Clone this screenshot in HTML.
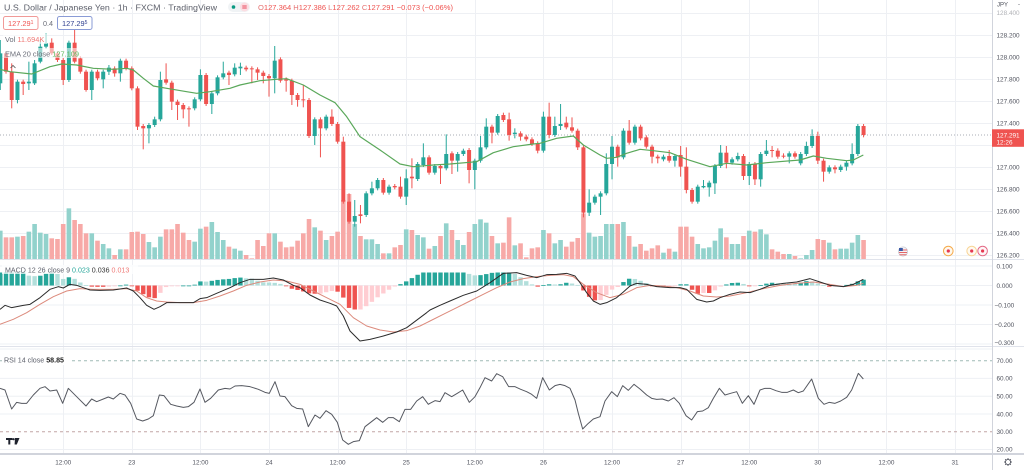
<!DOCTYPE html>
<html><head><meta charset="utf-8">
<style>
html,body{margin:0;padding:0;background:#fff;}
body{width:1024px;height:470px;overflow:hidden;position:relative;}
svg{position:absolute;left:0;top:0;}
text{font-family:"Liberation Sans",sans-serif;}
</style></head><body>
<svg id="s" width="1024" height="470" viewBox="0 0 1024 470" xmlns="http://www.w3.org/2000/svg">
<rect x="0" y="0" width="1024" height="470" fill="#ffffff"/>
<g id="grid"></g>
<g id="vol"></g>
<g id="cand"></g>
<g id="ind"></g>
<!-- separators / axis lines -->
<line x1="0" y1="259.5" x2="1024" y2="259.5" stroke="#e0e3eb" stroke-width="1"/>
<line x1="0" y1="346.5" x2="1024" y2="346.5" stroke="#e0e3eb" stroke-width="1"/>
<line x1="0" y1="454" x2="1024" y2="454" stroke="#d1d4dc" stroke-width="2"/>
<line x1="992.5" y1="0" x2="992.5" y2="470" stroke="#d1d4dc" stroke-width="1"/>

<!-- header -->
<text x="4" y="10.5" font-size="8.6" fill="#5d606b" textLength="213" lengthAdjust="spacingAndGlyphs">U.S. Dollar / Japanese Yen · 1h · FXCM · TradingView</text>
<rect x="228" y="2" width="22" height="10" rx="5" fill="#f0f3f5"/>
<circle cx="233.5" cy="7" r="1.8" fill="#089981"/>
<circle cx="244.5" cy="7" r="4.5" fill="#fcdde2"/>
<line x1="242.3" y1="6" x2="246.7" y2="6" stroke="#e5394f" stroke-width="0.9"/>
<line x1="242.3" y1="8" x2="246.7" y2="8" stroke="#e5394f" stroke-width="0.9"/>
<text x="258" y="10" font-size="7.4" fill="#ef5350" textLength="195" lengthAdjust="spacingAndGlyphs"><tspan fill="#e57373">O</tspan>127.364 <tspan fill="#e57373">H</tspan>127.386 <tspan fill="#e57373">L</tspan>127.262 <tspan fill="#e57373">C</tspan>127.291 −0.073 (−0.06%)</text>

<rect x="3.5" y="16.5" width="34.5" height="13" rx="2" fill="#fff" stroke="#f19a98" stroke-width="1"/>
<text x="8" y="25.8" font-size="7.4" fill="#ef5350">127.29<tspan font-size="5" dy="-2">1</tspan></text>
<text x="43" y="25.8" font-size="7.2" fill="#6a6d78">0.4</text>
<rect x="57.5" y="16.5" width="34.5" height="13" rx="2" fill="#fff" stroke="#8a9bd6" stroke-width="1"/>
<text x="62" y="25.8" font-size="7.4" fill="#2f3f8f">127.29<tspan font-size="5" dy="-2">5</tspan></text>

<rect x="3" y="34" width="44" height="10" fill="#ffffff" opacity="0.55"/>
<text x="5" y="42" font-size="7.4" fill="#6a6d78">Vol <tspan fill="#ef7a77">11.694K</tspan></text>
<rect x="3" y="48" width="78" height="10" fill="#ffffff" opacity="0.55"/>
<text x="5" y="56.3" font-size="7.4" fill="#6a6d78">EMA 20 close <tspan fill="#5cb85c">127.109</tspan></text>
<path d="M10.5 68 L13 65.5 L15.5 68" fill="none" stroke="#555" stroke-width="0.8"/>

<!-- MACD legend -->
<rect x="2" y="265" width="136" height="9" fill="#ffffff" opacity="0.7"/>
<text x="5" y="272.5" font-size="7.1" fill="#5d606b">MACD 12 26 close 9 <tspan fill="#26a69a">0.023</tspan> <tspan fill="#333">0.036</tspan> <tspan fill="#ef7a77">0.013</tspan></text>

<!-- RSI legend -->
<rect x="2" y="355" width="68" height="10" fill="#ffffff"/>
<text x="4" y="362.5" font-size="7.1" fill="#5d606b">RSI 14 close <tspan fill="#222" font-weight="bold">58.85</tspan></text>

<!-- TV logo -->
<g fill="#1e222d">
<rect x="6" y="438" width="6.5" height="2"/>
<rect x="8.3" y="438" width="2" height="6.5"/>
<circle cx="13.6" cy="439.2" r="1.1"/>
<path d="M15 438 L19.5 438 L16.8 444.5 L14.6 444.5 Z"/>
</g>

<!-- event icons -->
<circle cx="903" cy="251.5" r="4.6" fill="#f3f3f7" stroke="#c8cbd4" stroke-width="0.8"/>
<line x1="899" y1="250" x2="907" y2="250" stroke="#e25555" stroke-width="0.9"/>
<line x1="899" y1="252.5" x2="907" y2="252.5" stroke="#e25555" stroke-width="0.9"/>
<line x1="899.5" y1="254.8" x2="906.5" y2="254.8" stroke="#e25555" stroke-width="0.9"/>
<rect x="899" y="248" width="3.8" height="3" fill="#3c5aa6"/>
<circle cx="948.3" cy="251" r="4.8" fill="#fff8ec" stroke="#f5a94a" stroke-width="1"/>
<circle cx="948.3" cy="251" r="1.6" fill="#e53950"/>
<circle cx="971.7" cy="251" r="4.8" fill="#fffaf0" stroke="#f8d597" stroke-width="1"/>
<circle cx="971.7" cy="251" r="1.6" fill="#e53950"/>
<circle cx="982.6" cy="251" r="4.8" fill="#fff5f7" stroke="#e36a86" stroke-width="1"/>
<circle cx="982.6" cy="251" r="1.6" fill="#e53950"/>

<!-- right axis labels -->
<g font-size="6.4" fill="#50535e">
<text x="997" y="6.5" font-size="6">JPY</text>
<text x="1018" y="6" font-size="6">-</text>
<text x="996.5" y="15" opacity="0.45">128.400</text>
<text x="996.5" y="37.3">128.200</text>
<text x="996.5" y="59.3">128.000</text>
<text x="996.5" y="81.3">127.800</text>
<text x="996.5" y="103.3">127.600</text>
<text x="996.5" y="125.3">127.400</text>
<text x="996.5" y="169.3">127.000</text>
<text x="996.5" y="191.3">126.800</text>
<text x="996.5" y="213.3">126.600</text>
<text x="996.5" y="235.3">126.400</text>
<text x="996.5" y="257.3">126.200</text>
<text x="996.5" y="268.5">0.100</text>
<text x="996.5" y="287.8">0.000</text>
<text x="994.5" y="307.3">−0.100</text>
<text x="994.5" y="326.8">−0.200</text>
<text x="994.5" y="345">−0.300</text>
<text x="996.5" y="363">70.00</text>
<text x="996.5" y="380.7">60.00</text>
<text x="996.5" y="398.5">50.00</text>
<text x="996.5" y="416.3">40.00</text>
<text x="996.5" y="434">30.00</text>
<text x="996.5" y="451.5">20.00</text>
</g>
<rect x="992" y="129.3" width="32" height="17.5" fill="#ef5350"/>
<text x="996.5" y="137.3" font-size="6.4" fill="#ffffff">127.291</text>
<text x="996.5" y="144.3" font-size="6.4" fill="#ffffff">12:26</text>

<!-- time axis labels -->
<g font-size="6.4" fill="#50535e" text-anchor="middle">
<text x="63.2" y="464.5">12:00</text>
<text x="131.8" y="464.5">23</text>
<text x="200.4" y="464.5">12:00</text>
<text x="269" y="464.5">24</text>
<text x="337.6" y="464.5">12:00</text>
<text x="406.2" y="464.5">25</text>
<text x="474.8" y="464.5">12:00</text>
<text x="543.4" y="464.5">26</text>
<text x="612" y="464.5">12:00</text>
<text x="680.6" y="464.5">27</text>
<text x="749.2" y="464.5">12:00</text>
<text x="817.8" y="464.5">30</text>
<text x="886.4" y="464.5">12:00</text>
<text x="955" y="464.5">31</text>
</g>
<!-- gear -->
<g stroke="#50535e" fill="none" stroke-width="0.9">
<circle cx="1008" cy="462" r="2.6"/>
<line x1="1008" y1="458" x2="1008" y2="459.2"/>
<line x1="1008" y1="464.8" x2="1008" y2="466"/>
<line x1="1004" y1="462" x2="1005.2" y2="462"/>
<line x1="1010.8" y1="462" x2="1012" y2="462"/>
<line x1="1005.2" y1="459.2" x2="1006" y2="460"/>
<line x1="1010" y1="464" x2="1010.8" y2="464.8"/>
<line x1="1010.8" y1="459.2" x2="1010" y2="460"/>
<line x1="1006" y1="464" x2="1005.2" y2="464.8"/>
</g>
</svg>
<script>
(function(){
var NS="http://www.w3.org/2000/svg";
function el(p,t,a){var e=document.createElementNS(NS,t);for(var k in a)e.setAttribute(k,a[k]);p.appendChild(e);return e;}
var gG=document.getElementById('grid'),gV=document.getElementById('vol'),gC=document.getElementById('cand'),gI=document.getElementById('ind');
var X0=0.3,DX=5.717;function cx(i){return X0+i*DX;}
var GC="#eef0f4";
// vertical grid
[11,23,35,47,59,71,83,95,107,119,131,143,155,167].forEach(function(k){var x=Math.round(cx(k))+0.5;el(gG,'line',{x1:x,x2:x,y1:0,y2:453,stroke:GC,'stroke-width':1});});
// horizontal grid main
[13,35,57,79,101,123,145,167,189,211,233,255].forEach(function(y){el(gG,'line',{x1:0,x2:992,y1:y+0.5,y2:y+0.5,stroke:GC,'stroke-width':1});});
[266,285.5,305,324.5,344].forEach(function(y){el(gG,'line',{x1:0,x2:992,y1:y,y2:y,stroke:GC,'stroke-width':1});});
[349,378.4,396.2,414,449.5].forEach(function(y){el(gG,'line',{x1:0,x2:992,y1:y,y2:y,stroke:GC,'stroke-width':1});});
// RSI dashed
el(gG,'line',{x1:0,x2:992,y1:360.7,y2:360.7,stroke:"#9fbab5",'stroke-width':1,'stroke-dasharray':'3 3'});
el(gG,'line',{x1:0,x2:992,y1:431.7,y2:431.7,stroke:"#c2a6a6",'stroke-width':1,'stroke-dasharray':'3 3'});
// price dotted line
el(gG,'line',{x1:0,x2:992,y1:135,y2:135,stroke:"#a9acb5",'stroke-width':1,'stroke-dasharray':'1 2'});

var cs=("g,100,190,60,210 r,100,155 r,155,240,130,265 g,185,240,250 r,185,192,225 g,185,190,125,210 g,130,190,120,195 g,80,125,60,130 g,70,80,40 r,68,100,55,105 r,100,120 r,120,180,195 g,68,180 r,68,125,30,130 r,115,155 r,155,210,215 g,155,210,240 r,155,175 g,155,178,205 g,143,155,135,165 r,145,160,170 g,122,160,185 r,122,145 r,145,205 r,205,320,330 r,318,325,388 g,315,325,370 g,298,315,290 g,180,298,155 r,178,188,130 r,188,245,270 r,245,255,300 r,255,268,295 r,265,268,320 g,238,265 g,165,238,148 r,165,252,258 g,220,252,282 g,172,220 g,160,172,125 r,158,165,195 "+
"g,143,163,130 g,140,145,128,165 r,143,148 r,145,148,190 r,148,158,180 r,158,168,190 r,168,175,230 g,122,175,78,220 r,118,182 r,178,182,215 r,182,225,255 r,225,240,260 r,238,240,195,262 r,240,348 g,298,348,375 r,298,325,412 g,290,325 r,290,312,268 r,312,365 r,365,545,350 r,545,605,520 g,588,605,540,620 r,583,588,555,610 g,520,585 g,505,520,485 g,480,505 r,480,518 g,500,518 r,498,502 r,500,530,470 g,475,530,448,555 r,470,475,415,505 g,432,477 g,412,435,370 r,412,458 g,438,458 r,438,445,492 g,402,445,343 "+
"r,400,422,462 g,402,422,455 g,392,402 r,390,450,490 g,422,450,508 g,382,422,348 g,320,382,295 r,320,338,370 g,288,338 r,285,300,278 r,298,345,278,362 g,338,342,325,355 r,340,350,362 r,350,358 r,358,372 r,370,392,400 g,290,392,275,398 r,290,345,248,355 g,318,345,290 g,312,318,252,330 r,308,322,290 r,322,332,292 r,332,382,390 r,382,578,592 g,548,578,508,588 g,530,548 g,520,530,585 g,432,520,400 g,380,432,348,478 r,380,412,440 g,332,412,325 r,332,368,300 g,320,368 r,320,355 r,352,380 r,380,410,430 r,410,415,430 "+
"g,410,418 r,408,422,390 g,408,422,440 r,405,440,378,470 r,440,510,382,520 r,510,545 g,500,545 g,498,502,480,505 g,488,502,530 g,438,490,522 g,398,438,375 r,398,428,378,445 g,418,428 g,408,418,398 r,408,468,480 g,432,468,495 r,432,478,495 g,402,478,500 g,392,402,360 r,390,393,378,412 r,392,410,385 r,407,409,400,415 g,400,410,430 r,400,410 g,402,430 g,378,402,365 g,348,378,328 r,348,422,335,432 r,422,455,485 g,442,455 r,442,448,460 g,440,450 g,428,440,452 g,402,430,370 g,318,402,312 r,318,345,352").split(' ').map(function(s){return s.split(',');});

var vs=("632 652 652 650 648 635 612 638 642 655 657 612 565 600 612 640 640 662 672 685 705 688 688 636 635 642 666 682 650 628 628 612 638 660 665 626 620 606 636 660 680 "+
"686 692 705 715 660 678 640 640 665 682 680 662 640 597 622 632 660 648 635 540 522 612 648 658 658 672 700 700 682 675 628 630 645 652 686 678 648 610 "+
"630 660 675 636 612 598 608 648 670 668 592 676 670 712 685 682 630 640 670 660 680 665 654 580 638 650 648 612 612 612 606 648 680 672 692 685 676 "+
"698 686 695 620 620 650 672 685 682 662 625 652 672 672 648 632 635 628 643 688 695 702 702 708 715 705 690 657 660 668 688 686 686 668 645 660").split(' ').map(Number);

function zy(v){return 20+v/3;}
// volume
cs.forEach(function(c,i){
  var v=vs[i]; if(v===undefined)return;
  var y=zy(v); var x=cx(i);
  el(gV,'rect',{x:(x-2.3).toFixed(2),y:y.toFixed(2),width:4.6,height:(259-y).toFixed(2),fill:c[0]==='g'?'#92d2cc':'#f7a9a7'});
});
// candles
cs.forEach(function(c,i){
  var col=c[0]==='g'?'#26a69a':'#ef5350';
  var t=+c[1],b=+c[2],hi=t-6,lo=b+6;
  for(var k=3;k<c.length;k++){var w=+c[k];if(w<t)hi=w;else if(w>b)lo=w;}
  var x=cx(i);
  el(gC,'line',{x1:x.toFixed(2),x2:x.toFixed(2),y1:zy(hi).toFixed(2),y2:zy(lo).toFixed(2),stroke:col,'stroke-width':1});
  var yt=zy(t),yb=zy(b);
  el(gC,'rect',{x:(x-2).toFixed(2),y:yt.toFixed(2),width:4,height:Math.max(1,yb-yt).toFixed(2),fill:col});
});
// EMA
function conv(list,off,yoff){return list.map(function(p){return [off+p[0]/3,yoff+p[1]/3];});}
var ema=[].concat(
 conv([[0,148],[30,155],[95,162],[150,140],[185,132],[230,135],[280,145],[340,148],[380,145],[400,150],[430,175],[460,198],[500,205],[560,215],[590,220],[630,215]],0,20),
 conv([[30,205],[60,195],[120,182],[170,178],[200,176],[250,195],[300,225],[345,248],[380,290],[420,350],[480,390],[540,432],[580,440],[640,435]],220,20),
 conv([[30,432],[110,425],[160,398],[220,380],[280,372],[300,370],[350,355],[400,348],[430,375],[480,405],[500,415],[530,412],[560,400],[600,388],[640,392]],440,20),
 conv([[30,398],[80,418],[150,440],[200,430],[260,435],[320,428],[420,420],[460,408],[500,415],[560,422],[580,420],[610,405]],660,20)
);
function pts(a){return a.map(function(p){return p[0].toFixed(2)+','+p[1].toFixed(2);}).join(' ');}
el(gC,'polyline',{points:pts(ema),fill:'none',stroke:'#5aa85a','stroke-width':1.2,'stroke-linejoin':'round'});

// MACD
var M=[].concat(
 conv([[0,160],[15,148],[35,155],[70,148],[90,145],[120,125],[150,100],[175,92],[190,96],[210,85],[230,88],[250,95],[270,102],[300,103],[340,102],[380,96],[400,105],[420,125],[440,148],[462,160],[480,152],[500,140],[540,140],[580,140],[600,128],[620,125],[650,112],[690,95],[720,80],[750,70],[790,70],[820,66],[850,72],[880,88],[900,95],[930,117],[960,132],[990,142],[1010,150],[1030,180],[1050,225],[1080,255],[1110,250],[1150,240],[1190,228],[1220,215],[1260,185],[1280,170]],0,256),
 conv([[0,162],[30,148],[60,135],[100,118],[140,105],[180,80],[220,52],[260,50],[290,58],[320,65],[350,56],[380,55],[410,52],[435,60],[450,80],[470,110],[490,135],[510,145],[530,140],[560,125],[580,108],[600,90],[620,82],[650,85],[680,92],[720,95],[750,95],[770,100],[800,130],[830,138],[850,135],[870,125],[900,115],[930,108],[960,110],[990,100],[1020,88],[1060,82],[1100,78],[1140,68],[1170,78],[1200,88],[1240,92],[1270,85],[1300,70]],430,256)
);
var S=[].concat(
 conv([[0,205],[40,190],[80,170],[120,145],[160,122],[200,105],[240,98],[280,100],[340,100],[380,98],[410,105],[440,125],[470,135],[500,138],[540,140],[580,140],[620,133],[660,120],[700,105],[740,88],[780,78],[820,72],[860,75],[900,85],[940,105],[980,125],[1020,145],[1060,185],[1100,210],[1140,222],[1180,228],[1220,224],[1260,210],[1280,200]],0,256),
 conv([[0,195],[40,175],[80,155],[120,135],[160,115],[200,95],[240,78],[280,68],[320,62],[360,58],[400,56],[430,62],[460,85],[500,110],[540,125],[580,115],[620,95],[660,88],[700,90],[740,95],[780,105],[820,120],[860,123],[900,120],[950,110],[1000,98],[1050,88],[1100,82],[1150,78],[1200,85],[1240,92],[1280,88],[1300,82]],430,256)
);
function interp(P,x){if(x<=P[0][0])return P[0][1];for(var k=1;k<P.length;k++){if(x<=P[k][0]){var a=P[k-1],b=P[k];return a[1]+(b[1]-a[1])*(x-a[0])/(b[0]-a[0]);}}return P[P.length-1][1];}
var prev=0,Z=285.5;
for(var i=0;i<152;i++){
  var x=cx(i);var h=(interp(S,x)-interp(M,x))*1.45;
  if(h>13)h=13; if(h<-24)h=-24;
  var col;
  if(h>=0)col=(h>=prev)?'#26a69a':'#b2dfdb';else col=(h<prev)?'#ef5350':'#ffcdd2';
  var y=h>=0?Z-h:Z, hh=Math.max(0.8,Math.abs(h));
  el(gI,'rect',{x:(x-2.2).toFixed(2),y:y.toFixed(2),width:4.4,height:hh.toFixed(2),fill:col});
  prev=h;
}
el(gI,'polyline',{points:pts(S),fill:'none',stroke:'#dc8a7c','stroke-width':1,'stroke-linejoin':'round'});
el(gI,'polyline',{points:pts(M),fill:'none',stroke:'#2b2b2b','stroke-width':1,'stroke-linejoin':'round'});

// RSI
var R=[].concat(
 conv([[0,130],[15,135],[35,192],[50,172],[65,175],[80,175],[100,150],[120,130],[135,125],[150,138],[170,135],[188,175],[205,130],[230,155],[258,183],[275,162],[290,170],[310,162],[325,156],[340,162],[360,145],[375,150],[392,175],[410,222],[428,228],[445,222],[460,212],[478,150],[492,152],[512,178],[530,183],[550,187],[565,185],[582,172],[600,132],[615,172],[632,160],[655,135],[675,130],[690,132],[705,123],[725,122],[750,125],[775,133],[795,142],[808,145],[825,110],[840,153],[855,155],[875,182],[890,190],[908,192],[925,245],[945,210],[960,220],[978,197],[995,208],[1012,232],[1028,285],[1045,298],[1060,290],[1078,287],[1095,245],[1112,232],[1130,218],[1148,232],[1165,218],[1180,218],[1198,230],[1215,193],[1232,193],[1250,168],[1268,155],[1285,178]],0,345),
 conv([[0,175],[15,167],[30,170],[45,143],[65,155],[82,145],[98,135],[118,172],[135,155],[150,128],[165,98],[185,108],[200,86],[218,95],[236,125],[255,125],[272,133],[290,140],[305,148],[320,160],[338,98],[358,135],[375,122],[390,118],[405,122],[420,130],[435,165],[445,205],[458,252],[475,235],[490,222],[510,215],[525,168],[545,140],[562,155],[578,122],[595,136],[612,118],[630,132],[650,150],[665,160],[680,163],[697,162],[715,168],[732,158],[748,175],[768,212],[785,225],[802,200],[818,198],[835,188],[850,160],[868,130],[885,150],[902,145],[920,140],[937,175],[955,152],[972,178],[990,135],[1005,130],[1020,130],[1038,137],[1055,142],[1072,142],[1090,135],[1105,143],[1120,138],[1145,102],[1165,160],[1182,178],[1198,172],[1215,175],[1232,168],[1250,157],[1265,135],[1285,85],[1300,102]],430,345)
);
el(gI,'polyline',{points:pts(R),fill:'none',stroke:'#555860','stroke-width':1,'stroke-linejoin':'round'});
})();
</script>
</body></html>
